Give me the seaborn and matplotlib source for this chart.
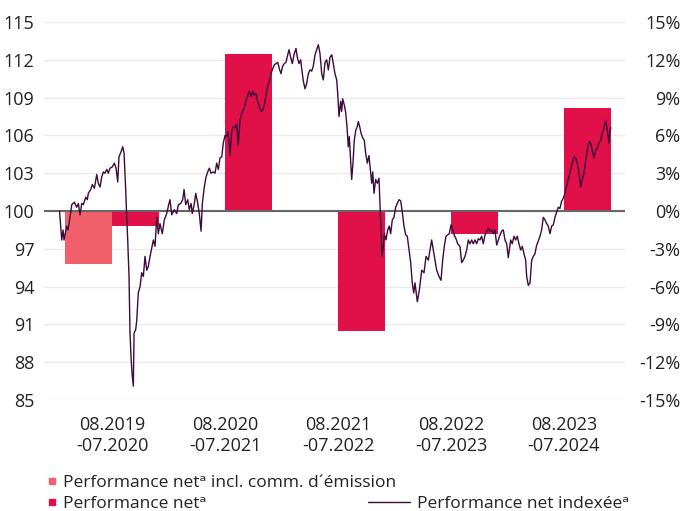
import numpy as np
import pandas as pd
import matplotlib.pyplot as plt
from matplotlib.lines import Line2D
import seaborn as sns

# bars: yearly net performance in %
periods = ["08.2019\n-07.2020", "08.2020\n-07.2021", "08.2021\n-07.2022",
           "08.2022\n-07.2023", "08.2023\n-07.2024"]
perf_fee = [-4.2]                     # only first period, incl. issue commission
perf_net = [-1.2, 12.5, -9.5, -1.8, 8.2]

# indexed net performance (months since 08.2019, index value)
idx_month = [
    0.00, 0.24, 0.38, 0.49, 0.78, 0.92, 1.14, 1.33, 1.61, 1.87, 2.05, 2.23, 2.42, 2.59, 2.85,
    3.02, 3.13, 3.39, 3.57, 3.79, 4.05, 4.22, 4.41, 4.59, 4.77, 4.95, 5.14, 5.31, 5.49, 5.74,
    5.96, 6.15, 6.33, 6.47, 6.69, 6.88, 7.02, 7.20, 7.31, 7.42, 7.56, 7.67, 7.78, 7.89, 8.03,
    8.11, 8.29, 8.40, 8.57, 8.76, 8.94, 9.12, 9.30, 9.49, 9.66, 9.85, 10.21, 10.39,
    10.58, 10.75, 10.93, 11.18, 11.40, 11.66, 11.91, 12.02, 12.21, 12.49, 12.75, 12.93, 13.19,
    13.40, 13.55, 13.73, 13.95, 14.12, 14.31, 14.45, 14.67, 14.82, 15.04, 15.21, 15.40, 15.54,
    15.75, 15.94, 16.12, 16.30, 16.48, 16.73, 16.92, 17.10, 17.28, 17.46, 17.65, 17.82, 18.01,
    18.19, 18.30, 18.44, 18.55, 18.74, 18.91, 19.09, 19.28, 19.45, 19.64, 19.89, 20.11, 20.29,
    20.48, 20.62, 20.84, 21.02, 21.19, 21.38, 21.56, 21.74, 21.92, 22.11, 22.28, 22.47, 22.65,
    22.83, 23.01, 23.20, 23.37, 23.56, 23.74, 23.91, 24.10, 24.28, 24.46, 24.64, 24.83, 24.97,
    25.15, 25.33, 25.51, 25.73, 25.87, 26.06, 26.24, 26.35, 26.53, 26.71, 26.89, 27.07, 27.25,
    27.44, 27.61, 27.80, 27.98, 28.16, 28.34, 28.53, 28.70, 28.89, 29.07, 29.25, 29.43, 29.62,
    29.79, 29.97, 30.16, 30.27, 30.41, 30.59, 30.70, 30.81, 30.99, 31.14, 31.28, 31.42, 31.53,
    31.68, 31.79, 31.93, 32.07, 32.23, 32.40, 32.51, 32.66, 32.80, 32.99, 33.16, 33.31, 33.49,
    33.67, 33.82, 33.97, 34.08, 34.22, 34.40, 34.58, 34.76, 34.87, 34.98, 35.09, 35.23, 35.34,
    35.52, 35.71, 35.88, 36.03, 36.21, 36.39, 36.58, 36.75, 36.94, 37.12, 37.30, 37.48, 37.67,
    37.84, 38.03, 38.21, 38.38, 38.54, 38.68, 38.93, 39.15, 39.41, 39.66, 39.88, 40.13, 40.31,
    40.49, 40.67, 40.85, 41.04, 41.29, 41.51, 41.69, 41.87, 42.05, 42.24, 42.41, 42.60, 42.78,
    42.95, 43.14, 43.32, 43.57, 43.76, 43.93, 44.12, 44.30, 44.48, 44.66, 44.85, 45.02, 45.21,
    45.39, 45.56, 45.75, 45.93, 46.11, 46.29, 46.48, 46.65, 46.84, 47.02, 47.20, 47.38, 47.57,
    47.74, 47.93, 48.11, 48.29, 48.47, 48.66, 48.83, 49.09, 49.26, 49.45, 49.63, 49.81, 49.99,
    50.18, 50.35, 50.54, 50.72, 50.83, 51.01, 51.19, 51.38, 51.55, 51.73, 51.92, 52.09, 52.28,
    52.46, 52.64, 52.82, 53.01, 53.18, 53.37, 53.55, 53.73, 53.91, 54.09, 54.27, 54.45, 54.64,
    54.81, 55.00, 55.11, 55.25, 55.43, 55.62, 55.79, 55.98, 56.16, 56.34, 56.52, 56.71, 56.88,
    57.07, 57.25, 57.42, 57.61, 57.79, 57.97, 58.15, 58.34, 58.51, 58.70, 58.88, 59.06, 59.24,
    59.43, 59.60, 59.79, 59.89, 60.00,
]
idx_value = [
    100.0, 97.7, 98.5, 97.7, 98.8, 98.5, 99.5, 100.5, 100.7, 100.3, 100.6, 99.7, 100.6, 100.5, 101.1,
    100.9, 101.4, 101.7, 102.1, 101.8, 102.9, 102.2, 101.9, 102.7, 103.1, 103.0, 103.3, 103.0, 103.4, 103.5,
    103.8, 103.4, 102.3, 104.3, 104.7, 105.1, 104.6, 101.7, 99.5, 97.7, 94.8, 90.3, 88.4, 87.1, 86.1,
    90.3, 90.6, 91.3, 93.5, 94.0, 95.1, 94.8, 96.4, 95.3, 95.6, 96.4, 97.7, 97.2,
    99.5, 98.2, 99.0, 98.2, 99.3, 99.8, 100.6, 100.9, 99.7, 100.1, 99.8, 100.5, 100.6,
    100.9, 101.7, 100.5, 100.9, 100.1, 100.6, 99.8, 100.6, 101.4, 100.6, 99.8, 98.4, 100.6,
    101.9, 102.7, 103.1, 103.4, 103.0, 103.1, 103.0, 103.8, 103.3, 104.2, 104.3, 105.4, 106.0,
    105.9, 106.3, 105.6, 104.4, 106.4, 106.7, 106.6, 106.9, 105.2, 107.2, 107.9, 108.2, 108.8,
    109.1, 109.5, 109.1, 109.5, 109.2, 109.3, 108.7, 108.3, 107.9, 108.0, 108.4, 109.2, 109.9,
    110.3, 110.9, 111.3, 111.6, 111.7, 111.8, 111.3, 110.9, 111.5, 111.7, 111.8, 112.4, 112.8,
    112.2, 111.7, 112.4, 112.9, 112.2, 111.7, 112.0, 111.3, 110.3, 109.7, 110.1, 110.9, 111.2,
    111.1, 111.5, 112.4, 112.8, 113.2, 112.5, 110.9, 110.4, 111.8, 112.0, 111.2, 112.2, 112.4,
    111.7, 110.9, 110.4, 109.3, 107.5, 108.7, 107.9, 108.9, 108.4, 107.8, 106.7, 105.1, 105.9,
    104.0, 102.5, 103.8, 105.6, 106.4, 106.7, 107.1, 106.7, 106.2, 105.8, 105.6, 104.6, 103.8,
    104.4, 103.3, 102.2, 103.1, 101.4, 102.5, 102.2, 102.6, 100.6, 98.5, 96.4, 97.2, 98.2,
    97.7, 98.5, 98.8, 98.2, 99.3, 99.5, 100.3, 100.6, 100.9, 100.8, 99.9, 98.8, 98.1,
    98.0, 96.9, 95.9, 94.3, 93.5, 94.3, 92.8, 93.7, 95.3, 95.1, 96.4, 96.1, 96.9,
    97.7, 96.9, 96.1, 95.3, 94.8, 94.5, 96.1, 97.2, 98.0, 98.1, 98.2, 98.9, 98.5,
    98.1, 97.8, 97.4, 97.2, 95.9, 96.1, 96.4, 96.9, 97.7, 97.4, 97.7, 97.4, 97.7,
    97.4, 97.8, 97.7, 98.0, 97.4, 98.1, 98.4, 98.6, 98.4, 98.5, 98.2, 98.5, 97.3,
    97.7, 98.1, 98.4, 98.5, 97.7, 97.4, 96.3, 97.7, 97.4, 98.0, 97.7, 98.0, 97.4,
    96.9, 97.2, 96.6, 96.1, 94.8, 94.1, 94.3, 96.1, 96.4, 96.6, 97.3, 97.6, 98.0,
    98.5, 99.5, 99.3, 99.0, 98.8, 98.2, 98.8, 98.9, 99.5, 99.9, 100.3, 100.2, 100.8,
    101.0, 101.4, 101.8, 102.2, 102.7, 103.3, 103.8, 104.3, 104.2, 103.8, 103.1, 101.9, 102.5,
    103.0, 104.0, 104.8, 105.5, 105.4, 104.8, 104.2, 104.8, 105.0, 105.4, 105.6, 106.2, 106.6,
    107.2, 106.4, 105.4, 106.4, 106.6,
]

lbl_fee = "Performance netᵃ incl. comm. d´émission"
lbl_net = "Performance netᵃ"
lbl_idx = "Performance net indexéeᵃ"

c_fee = "#F2616B"
c_net = "#E21048"
c_idx = "#3D0B3C"
c_txt = "#222222"

sns.set_style("white")
plt.rcParams["font.family"] = ["Open Sans", "DejaVu Sans"]

bars = pd.DataFrame({
    "period": [periods[0]] + periods,
    "value": perf_fee + perf_net,
    "series": [lbl_fee] + [lbl_net] * len(perf_net),
})
line = pd.DataFrame({"month": idx_month, "index": idx_value})

fig = plt.figure(figsize=(6.84, 5.11), dpi=100)
rect = [44 / 684, 111 / 511, 581 / 684, 378 / 511]

# bar axis (right, %)
ax = fig.add_axes(rect)
sns.barplot(data=bars, x="period", y="value", hue="series", order=periods,
            hue_order=[lbl_fee, lbl_net], palette=[c_fee, c_net],
            width=0.83, dodge=True, saturation=1, linewidth=0,
            legend=False, ax=ax)
ax.set_xlim(-0.602, 4.54)
ax.set_ylim(-15, 15)
ax.set_yticks(range(-15, 16, 3))
ax.set_yticklabels([f"{v}%" for v in range(-15, 16, 3)])
ax.yaxis.tick_right()
ax.grid(axis="y", color="#EBEBEB", lw=1)
ax.set_axisbelow(True)
ax.axhline(0, color="#666666", lw=1.5, zorder=3)
ax.set_xlabel("")
ax.set_ylabel("")
ax.tick_params(axis="y", length=0, pad=40, labelsize=13, colors=c_txt)
ax.tick_params(axis="x", length=0, pad=11.5, labelsize=13, colors=c_txt)
for t in ax.get_yticklabels():
    t.set_horizontalalignment("right")
for s in ax.spines.values():
    s.set_visible(False)

# line axis (left, index)
axl = fig.add_axes(rect)
axl.patch.set_visible(False)
sns.lineplot(data=line, x="month", y="index", color=c_idx, lw=1,
             estimator=None, ax=axl)
axl.set_xlim(-1.69, 61.53)
axl.set_ylim(85, 115)
axl.set_yticks(range(85, 116, 3))
axl.set_xticks([])
axl.set_xlabel("")
axl.set_ylabel("")
axl.tick_params(axis="y", length=0, pad=7, labelsize=13, colors=c_txt)
for s in axl.spines.values():
    s.set_visible(False)

h_fee = Line2D([], [], marker="s", ls="none", color=c_fee, markersize=4.5)
h_net = Line2D([], [], marker="s", ls="none", color=c_net, markersize=4.5)
h_idx = Line2D([], [], color=c_idx, lw=1)

leg1 = fig.legend(handles=[h_fee, h_net], labels=[lbl_fee, lbl_net],
                  loc="upper left", bbox_to_anchor=(47 / 684, 36 / 511),
                  frameon=False, fontsize=12.5, handlelength=0.6,
                  handletextpad=0.3, labelspacing=0.25, borderpad=0,
                  borderaxespad=0, labelcolor=c_txt)
leg2 = fig.legend(handles=[h_idx], labels=[lbl_idx],
                  loc="upper left", bbox_to_anchor=(368 / 684, 15 / 511),
                  frameon=False, fontsize=12.5, handlelength=2.4,
                  handletextpad=0.4, borderpad=0, borderaxespad=0,
                  labelcolor=c_txt)

fig.savefig("out.png", dpi=100)
